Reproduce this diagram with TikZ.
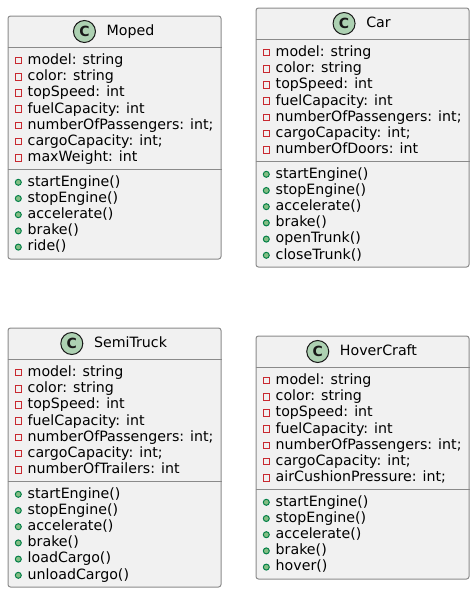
\documentclass[tikz,border=0pt]{standalone}
\usepackage{fontspec}
\setmainfont{DejaVu Sans}
\usetikzlibrary{positioning, calc}
\definecolor{ClassFill}{HTML}{F1F1F1}
\definecolor{ClassLine}{HTML}{8A8A8A}
\definecolor{IconGreen}{HTML}{ADD1B2}
\definecolor{IconDark}{HTML}{181818}
\definecolor{PrivateRed}{HTML}{C82930}
\definecolor{PublicFill}{HTML}{84BE84}
\definecolor{PublicLine}{HTML}{038048}

\newcommand{\classbox}[7]{%
  \node[classframe, minimum height=#4pt] (#1) at (#2,#3) {};
  \node[classtitle] (#1-title) at ($(#1.north)+(16,-16)$) {#5};
  \node[classicon, left=10.5pt of #1-title] (#1-icon) {C};
  \coordinate (#1-head-l) at ($(#1.north west)+(0,-32)$);
  \coordinate (#1-head-r) at ($(#1.north east)+(0,-32)$);
  \coordinate (#1-sep-l) at ($(#1.north west)+(0,-154)$);
  \coordinate (#1-sep-r) at ($(#1.north east)+(0,-154)$);
  \draw[classrule] (#1-head-l) -- (#1-head-r);
  \draw[classrule] (#1-sep-l) -- (#1-sep-r);
  \foreach \member [count=\n] in {#6} {
    \node[member] (#1-attr-\n) at ($(#1.north west)+(20,{-49-16.2*(\n-1)})$) {\member};
    \node[attricon] (#1-attrmark-\n) at ($(#1-attr-\n.base west)+(-9.2,4)$) {};
  }
  \foreach \member [count=\n] in {#7} {
    \node[member] (#1-meth-\n) at ($(#1.north west)+(20,{-170.5-16.2*(\n-1)})$) {\member};
    \node[methicon] (#1-methmark-\n) at ($(#1-meth-\n.base west)+(-9.2,3.7)$) {};
  }
}

\begin{document}
\begin{tikzpicture}[x=1pt, y=1pt,
        classframe/.style={rectangle, draw=ClassLine, fill=ClassFill, line width=1pt, rounded corners=2.5pt, minimum width=213pt, inner sep=0pt, anchor=north west},
        classrule/.style={ClassLine, line width=1pt},
        classtitle/.style={inner sep=0pt, text height=11pt, text depth=3pt, font=\fontsize{14.2}{16}\selectfont},
        classicon/.style={circle, draw=IconDark, fill=IconGreen, line width=1pt, minimum size=22pt, inner sep=0pt, text=IconDark, font=\fontsize{14}{14}\selectfont\bfseries},
        member/.style={inner sep=0pt, anchor=base west, font=\fontsize{14.2}{16}\selectfont},
        attricon/.style={rectangle, draw=PrivateRed, fill=ClassFill, line width=0.9pt, minimum size=6.5pt, inner sep=0pt},
        methicon/.style={circle, draw=PublicLine, fill=PublicFill, line width=1pt, minimum size=6pt, inner sep=0pt}]

        \useasboundingbox (0,0) rectangle (474,-592);

        \classbox{moped}{7.5}{-15.5}{243}{Moped}
          {model: string, color: string, topSpeed: int, fuelCapacity: int, numberOfPassengers: int;, cargoCapacity: int;, maxWeight: int}
          {startEngine(), stopEngine(), accelerate(), brake(), ride()}
        \classbox{car}{255.5}{-7.5}{259}{Car}
          {model: string, color: string, topSpeed: int, fuelCapacity: int, numberOfPassengers: int;, cargoCapacity: int;, numberOfDoors: int}
          {startEngine(), stopEngine(), accelerate(), brake(), openTrunk(), closeTrunk()}
        \classbox{semi}{7.5}{-327.5}{259}{SemiTruck}
          {model: string, color: string, topSpeed: int, fuelCapacity: int, numberOfPassengers: int;, cargoCapacity: int;, numberOfTrailers: int}
          {startEngine(), stopEngine(), accelerate(), brake(), loadCargo(), unloadCargo()}
        \classbox{hover}{255.5}{-335.5}{243}{HoverCraft}
          {model: string, color: string, topSpeed: int, fuelCapacity: int, numberOfPassengers: int;, cargoCapacity: int;, airCushionPressure: int;}
          {startEngine(), stopEngine(), accelerate(), brake(), hover()}
    \end{tikzpicture}
\end{document}
